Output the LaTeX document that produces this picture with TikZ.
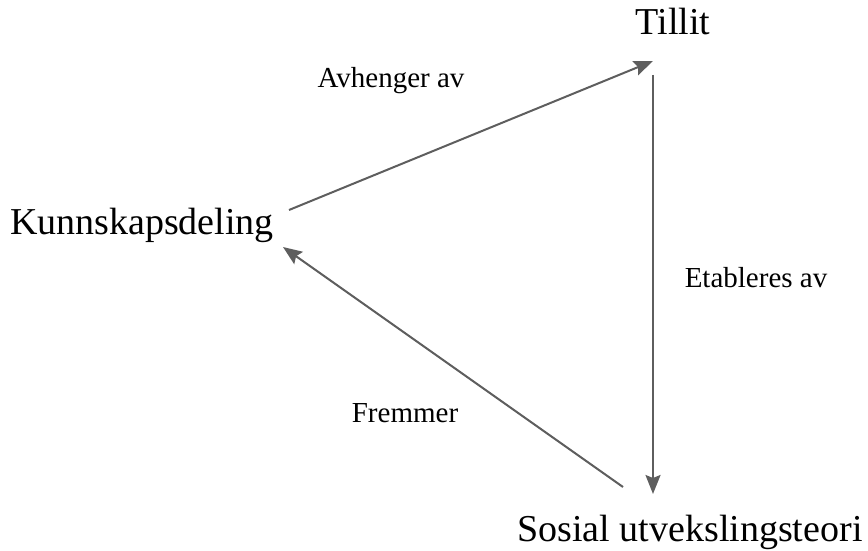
\documentclass[tikz,border=0pt]{standalone}
\usepackage{fontspec}
\setmainfont{Liberation Serif}
\usetikzlibrary{arrows.meta}
\definecolor{linkgray}{HTML}{5E5E5E}
\tikzset{
  concept/.style={inner sep=0pt, anchor=base, font=\fontsize{38}{44}\selectfont},
  relation/.style={inner sep=0pt, anchor=base, font=\fontsize{29}{34}\selectfont},
  link/.style={draw=linkgray, line width=2pt, -{Stealth[length=19pt,width=15pt,inset=3pt]}}
}
\begin{document}
\begin{tikzpicture}[x=1pt,y=-1pt]
\useasboundingbox (0,0) rectangle (868,551);
% concepts
\node[concept] (tillit) at (673,35) {Tillit};
\node[concept] (kd) at (142,234) {Kunnskapsdeling};
\node[concept] (set) at (690,541) {Sosial utvekslingsteori};
% connector ends
\coordinate (kdOut) at (289,210);
\coordinate (kdIn) at (283,247);
\coordinate (tillitIn) at (653,61);
\coordinate (tillitOut) at (653,75);
\coordinate (setIn) at (653,494);
\coordinate (setOut) at (623,487);
% relations
\draw[link] (kdOut) -- (tillitIn);
\draw[link] (tillitOut) -- (setIn);
\draw[link] (setOut) -- (kdIn);
\node[relation] (avh) at (391,88) {Avhenger av};
\node[relation] (etab) at (756,287) {Etableres av};
\node[relation] (frem) at (405,422) {Fremmer};
\end{tikzpicture}
\end{document}
